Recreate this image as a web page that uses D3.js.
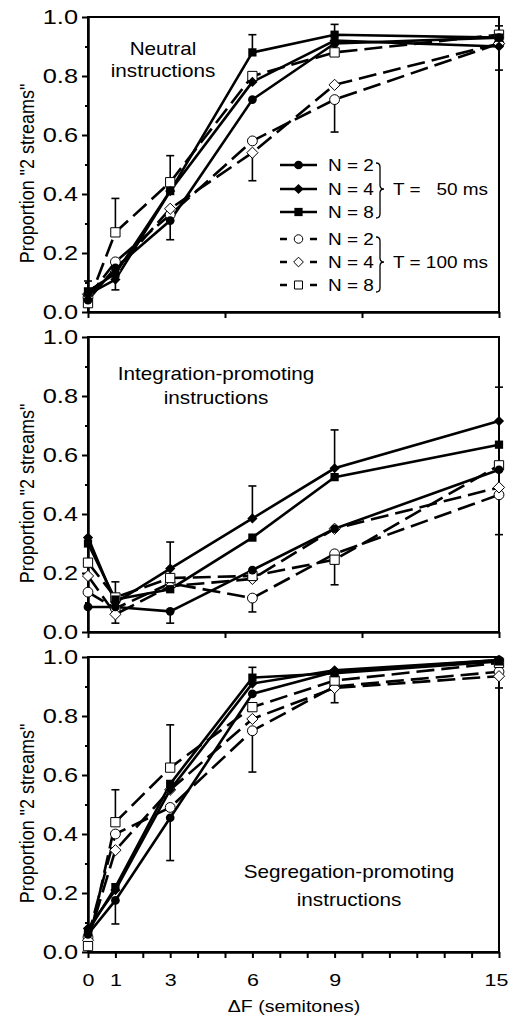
<!DOCTYPE html>
<html>
<head>
<meta charset="utf-8">
<script src="https://cdn.jsdelivr.net/npm/d3@7"></script>
<style>
    body { margin: 0; background: #fff; }
    svg text { font-family: "Liberation Sans", Arial, sans-serif; fill: #000; }
</style>
</head>
<body>
<svg id="chart" width="511" height="1023"></svg>
<script>
// x values (semitones) and tick labels
const deltaF = [0, 1, 3, 6, 9, 15];
const xTickLabels = [0, 1, 3, 6, 9, 15];
const yTicks = [0, 0.2, 0.4, 0.6, 0.8, 1.0];
const nLabels = ["N = 2", "N = 4", "N = 8"];
const tLabels = ["T =   50 ms", "T = 100 ms"];

// proportion "2 streams" — rows are N = 2, 4, 8
const neutral50 = [
    [0.04, 0.15, 0.31, 0.72, 0.91, 0.93],
    [0.06, 0.11, 0.41, 0.78, 0.92, 0.90],
    [0.07, 0.13, 0.41, 0.88, 0.94, 0.93]
];
const neutral100 = [
    [0.05, 0.17, 0.33, 0.58, 0.72, 0.91],
    [0.06, 0.14, 0.35, 0.54, 0.77, 0.91],
    [0.03, 0.27, 0.44, 0.80, 0.88, 0.94]
];
const integration50 = [
    [0.085, 0.085, 0.07, 0.21, 0.35, 0.55],
    [0.32, 0.10, 0.215, 0.385, 0.555, 0.715],
    [0.30, 0.11, 0.145, 0.32, 0.525, 0.635]
];
const integration100 = [
    [0.135, 0.08, 0.165, 0.115, 0.265, 0.465],
    [0.19, 0.06, 0.155, 0.18, 0.35, 0.49],
    [0.235, 0.117, 0.183, 0.19, 0.245, 0.565]
];
const segregation50 = [
    [0.06, 0.175, 0.455, 0.875, 0.95, 0.99],
    [0.08, 0.21, 0.55, 0.91, 0.955, 0.99],
    [0.07, 0.22, 0.57, 0.93, 0.945, 0.985]
];
const segregation100 = [
    [0.05, 0.40, 0.49, 0.75, 0.90, 0.95],
    [0.04, 0.345, 0.55, 0.79, 0.895, 0.935],
    [0.02, 0.44, 0.625, 0.83, 0.92, 0.98]
];

// one-sided error bars: [deltaF, from, to]
const neutralErr = [
    [0, 0.07, 0.105], [1, 0.27, 0.385], [1, 0.11, 0.075], [3, 0.44, 0.53], [3, 0.31, 0.245],
    [6, 0.88, 0.94], [6, 0.54, 0.445], [9, 0.94, 0.975], [9, 0.72, 0.61], [15, 0.94, 0.97], [15, 0.90, 0.82]
];
const integrationErr = [
    [1, 0.117, 0.17], [1, 0.06, 0.03], [3, 0.215, 0.305], [3, 0.07, 0.03], [6, 0.385, 0.495],
    [6, 0.115, 0.068], [9, 0.555, 0.685], [9, 0.245, 0.16], [15, 0.715, 0.83], [15, 0.465, 0.33]
];
const segregationErr = [
    [1, 0.44, 0.55], [1, 0.175, 0.095], [3, 0.625, 0.77], [3, 0.455, 0.31], [6, 0.93, 0.965],
    [6, 0.75, 0.61], [9, 0.895, 0.845], [15, 0.935, 0.895]
];

const panelText = [
    ["Neutral", "instructions"],
    ["Integration-promoting", "instructions"],
    ["Segregation-promoting", "instructions"]
];

// build panel list
const panels = [
    { t50: neutral50, t100: neutral100, err: neutralErr, text: panelText[0], tx: 163, ty: 38, lh: 22, legend: true, fineX: false },
    { t50: integration50, t100: integration100, err: integrationErr, text: panelText[1], tx: 216, ty: 43, lh: 24, legend: false, fineX: false },
    { t50: segregation50, t100: segregation100, err: segregationErr, text: panelText[2], tx: 349, ty: 221, lh: 28, legend: false, fineX: true }
];

const SX = 1.15;      // text in the figure is horizontally stretched
const SX_TICK = 1.3;  // tick labels are stretched a bit more
const margin = { left: 88, right: 12, top: 17, panel_h: 295, panel_gap: 25 };
const width = 511 - margin.left - margin.right;

const svg = d3.select("#chart");
const x = d3.scaleLinear().domain([0, 15]).range([margin.left, margin.left + width]);

const symbols = [d3.symbolCircle, d3.symbolDiamond2, d3.symbolSquare];
const filledSize = [60, 66, 68];
const openSize = [76, 80, 86];
const DASH = "18,7";

function stext(g, px, py, str, size, anchor) {
    return g.append("text")
        .attr("transform", `translate(${px},${py}) scale(${SX},1)`)
        .style("font-size", size + "px")
        .style("text-anchor", anchor || "middle")
        .style("white-space", "pre")
        .text(str);
}

panels.forEach((p, pi) => {
    const top = margin.top + pi * (margin.panel_h + margin.panel_gap);
    const bottom = top + margin.panel_h;
    const y = d3.scaleLinear().domain([0, 1]).range([bottom, top]);
    const g = svg.append("g").classed("panel", true);

    // frame
    g.append("rect")
        .attr("x", x(0)).attr("y", top)
        .attr("width", width).attr("height", margin.panel_h)
        .attr("fill", "none").attr("stroke", "#000").attr("stroke-width", 2);

    // y axis, major + minor ticks
    const yAx = g.append("g")
        .attr("transform", `translate(${x(0)},0)`)
        .call(d3.axisLeft(y).tickValues(yTicks).tickSize(6).tickSizeOuter(0).tickPadding(4).tickFormat(d3.format(".1f")));
    yAx.select(".domain").attr("stroke-width", 2.5);
    yAx.selectAll(".tick line").attr("stroke-width", 2);
    yAx.selectAll(".tick text")
        .attr("x", -10 / SX_TICK)
        .attr("transform", `scale(${SX_TICK},1)`)
        .style("font-size", "19.5px")
        .attr("font-family", null);
    const yMin = g.append("g")
        .attr("transform", `translate(${x(0)},0)`)
        .call(d3.axisLeft(y).tickValues([0.1, 0.3, 0.5, 0.7, 0.9]).tickSize(3).tickFormat(""));
    yMin.select(".domain").remove();
    yMin.selectAll(".tick line").attr("stroke-width", 2);

    // x axis
    const xAx = g.append("g")
        .attr("transform", `translate(0,${bottom})`)
        .call(d3.axisBottom(x)
            .tickValues(p.fineX ? d3.range(0, 16) : [0, 5, 10, 15])
            .tickSize(6).tickSizeOuter(0).tickPadding(16)
            .tickFormat(d => p.fineX && xTickLabels.includes(d) ? d : ""));
    xAx.select(".domain").attr("stroke-width", 2.5);
    xAx.selectAll(".tick line").attr("stroke-width", 2);
    xAx.selectAll(".tick text")
        .attr("transform", `scale(${SX_TICK},1)`)
        .attr("x", d => d === 15 ? -3 / SX_TICK : 0)
        .style("font-size", "16.5px")
        .attr("font-family", null);

    // y title
    g.append("text")
        .attr("transform", `translate(34,${top + margin.panel_h / 2 + 9}) scale(${SX},1) rotate(-90)`)
        .style("font-size", "18px")
        .style("text-anchor", "middle")
        .text('Proportion "2 streams"');

    // panel text
    p.text.forEach((t, i) => stext(g, p.tx, top + p.ty + i * p.lh, t, 18));

    // error bars
    const eb = g.selectAll("g.err").data(p.err).enter().append("g").classed("err", true);
    eb.append("line")
        .attr("x1", d => x(d[0])).attr("x2", d => x(d[0]))
        .attr("y1", d => y(d[1])).attr("y2", d => y(d[2]))
        .attr("stroke", "#000").attr("stroke-width", 1.6);
    eb.append("line")
        .attr("x1", d => x(d[0]) - 4).attr("x2", d => x(d[0]) + 4)
        .attr("y1", d => y(d[2])).attr("y2", d => y(d[2]))
        .attr("stroke", "#000").attr("stroke-width", 1.6);

    const line = d3.line().x((d, i) => x(deltaF[i])).y(d => y(d));

    // dashed lines (T = 100 ms) then solid (T = 50 ms)
    g.selectAll("path.t100").data(p.t100).enter().append("path")
        .classed("t100", true)
        .attr("d", line)
        .attr("fill", "none").attr("stroke", "#000").attr("stroke-width", 2.6)
        .attr("stroke-dasharray", DASH);
    g.selectAll("path.t50").data(p.t50).enter().append("path")
        .classed("t50", true)
        .attr("d", line)
        .attr("fill", "none").attr("stroke", "#000").attr("stroke-width", 2.6);

    // markers
    p.t100.forEach((vals, si) => {
        g.selectAll(null).data(vals).enter().append("path")
            .attr("transform", (d, i) => `translate(${x(deltaF[i])},${y(d)})`)
            .attr("d", d3.symbol().type(symbols[si]).size(openSize[si]))
            .attr("fill", "#fff").attr("stroke", "#000").attr("stroke-width", 1);
    });
    p.t50.forEach((vals, si) => {
        g.selectAll(null).data(vals).enter().append("path")
            .attr("transform", (d, i) => `translate(${x(deltaF[i])},${y(d)})`)
            .attr("d", d3.symbol().type(symbols[si]).size(filledSize[si]))
            .attr("fill", "#000");
    });

    // legend
    if (p.legend) {
        const rows = [165, 189, 212, 239, 262, 285];
        const lg = g.append("g").classed("legend", true);
        rows.forEach((ry, ri) => {
            const si = ri % 3, open = ri >= 3;
            lg.append("line")
                .attr("x1", 280).attr("x2", 317).attr("y1", ry).attr("y2", ry)
                .attr("stroke", "#000").attr("stroke-width", 2.6)
                .attr("stroke-dasharray", open ? "7,23" : null);
            lg.append("path")
                .attr("transform", `translate(298.5,${ry})`)
                .attr("d", d3.symbol().type(symbols[si]).size(open ? openSize[si] * 0.75 : filledSize[si]))
                .attr("fill", open ? "#fff" : "#000")
                .attr("stroke", open ? "#000" : "none").attr("stroke-width", 1);
            stext(lg, 328, ry + 6, nLabels[si], 16.5, "start");
        });
        [[163, 218, 189], [237, 292, 262]].forEach(([y0, y1, ym], gi) => {
            const bx = 376;
            lg.append("path")
                .attr("d", `M${bx},${y0} Q${bx + 4},${y0} ${bx + 4},${y0 + 4} L${bx + 4},${ym - 4} Q${bx + 4},${ym} ${bx + 8},${ym} Q${bx + 4},${ym} ${bx + 4},${ym + 4} L${bx + 4},${y1 - 4} Q${bx + 4},${y1} ${bx},${y1}`)
                .attr("fill", "none").attr("stroke", "#000").attr("stroke-width", 1.3);
            stext(lg, 393, ym + 6, tLabels[gi], 16.5, "start");
        });
    }
});

// x title
stext(svg, 294, 1012, "\u0394F (semitones)", 17);
</script>
</body>
</html>
